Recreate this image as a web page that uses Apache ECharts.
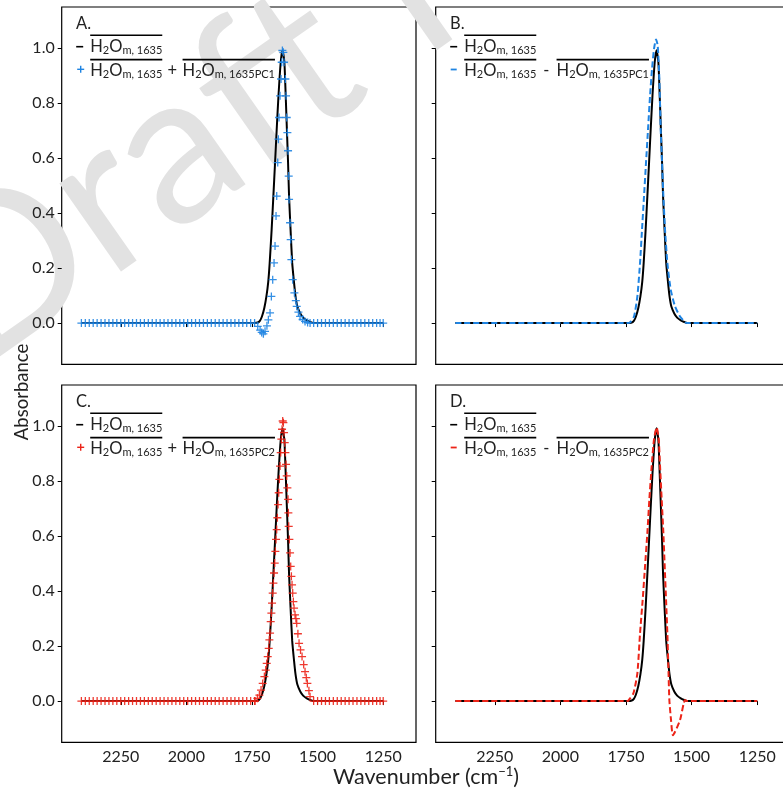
<!DOCTYPE html>
<html><head><meta charset="utf-8">
<script src="https://cdn.jsdelivr.net/npm/echarts@6/dist/echarts.min.js"></script>
<style>html,body{margin:0;padding:0;background:#fff}#c{width:783px;height:789px}</style>
</head><body><div id="c"></div>
<script>
// ---------- data ----------
const xTicks = [2250, 2000, 1750, 1500, 1250];
const yTicks = [0.0, 0.2, 0.4, 0.6, 0.8, 1.0];
const panelLabels = ['A.', 'B.', 'C.', 'D.'];

// H2Om,1635 (black, all panels)
const blackWn  = [2400, 1740, 1728, 1720, 1712, 1703, 1695, 1688, 1682.5, 1675, 1668.5, 1662, 1655.7, 1649, 1640.5, 1633.5, 1626.5, 1621.5, 1617, 1612.5, 1608.7, 1603, 1596.7, 1590, 1584, 1577, 1566, 1555, 1541, 1528, 1517, 1250];
const blackVal = [0, 0, 0.002, 0.008, 0.024, 0.055, 0.097, 0.15, 0.219, 0.341, 0.462, 0.584, 0.706, 0.827, 0.949, 0.993, 0.949, 0.827, 0.706, 0.584, 0.462, 0.341, 0.219, 0.15, 0.097, 0.06, 0.035, 0.02, 0.01, 0.004, 0, 0];

// flat baseline marker positions (wavenumbers) shared by the "+" series
const baseHighWn = [2400,2385,2370,2355,2340,2325,2310,2295,2280,2265,2250,2235,2220,2205,2190,2175,2160,2145,2130,2115,2100,2085,2070,2055,2040,2025,2010,1995,1980,1965,1950,1935,1920,1905,1890,1875,1860,1845,1830,1815,1800,1785,1770,1755,1740];
const baseLowWn  = [1515,1500,1485,1470,1455,1440,1425,1410,1395,1380,1365,1350,1335,1320,1305,1290,1275,1262,1250];
const baseHighVal = [0,0,0,0,0,0,0,0,0,0,0,0,0,0,0,0,0,0,0,0,0,0,0,0,0,0,0,0,0,0,0,0,0,0,0,0,0,0,0,0,0,0,0,0,0];
const baseLowVal  = [0,0,0,0,0,0,0,0,0,0,0,0,0,0,0,0,0,0,0];

// H2Om,1635 + PC1 (blue "+" markers, panel A) - peak part
const sumPC1Wn  = [1728,1719,1712.9,1706.5,1700.2,1693,1687.5,1681.1,1676.1,1671.0,1665.9,1662.1,1658.3,1655.7,1651.9,1649.4,1646.9,1643.0,1639.2,1636.7,1634.1,1630.5,1627.8,1622.7,1620.2,1617.6,1615.1,1612.5,1610.0,1608.7,1604.9,1602.4,1599.8,1594.8,1588.4,1583,1579.5,1573,1566.8,1557,1547.8,1538,1528.7];
const sumPC1Val = [-0.012,-0.026,-0.034,-0.039,-0.030,-0.010,0.012,0.037,0.097,0.158,0.219,0.280,0.390,0.462,0.584,0.669,0.748,0.827,0.888,0.949,0.992,0.985,0.949,0.888,0.827,0.748,0.693,0.627,0.535,0.450,0.365,0.304,0.231,0.158,0.110,0.082,0.061,0.040,0.024,0.013,0.006,0.002,0];

// H2Om,1635 - PC1 (blue dashed, panel B)
const diffPC1Wn  = [2400, 1745, 1734.5, 1719.3, 1706.6, 1696.4, 1688.8, 1681.2, 1673.6, 1665.9, 1658.3, 1650.7, 1643.1, 1635.4, 1629.1, 1622.8, 1617.7, 1612.6, 1607.5, 1601.2, 1592.3, 1579.6, 1563.1, 1544.0, 1524.9, 1515, 1250];
const diffPC1Val = [0, 0, 0.002, 0.024, 0.097, 0.219, 0.341, 0.462, 0.584, 0.706, 0.827, 0.925, 0.998, 1.032, 1.010, 0.888, 0.706, 0.584, 0.462, 0.341, 0.219, 0.122, 0.061, 0.024, 0.003, 0, 0];

// H2Om,1635 + PC2 (red "+" markers, panel C) - peak part
const sumPC2Wn  = [1738.3,1729.4,1721.8,1715.4,1709.1,1702.7,1697.6,1693.8,1690.0,1686.2,1683.7,1681.1,1678.6,1676.1,1673.5,1671.0,1668.4,1665.9,1663.3,1660.8,1658.3,1655.7,1653.2,1650.6,1648.1,1645.6,1643.0,1640.5,1637.9,1635.4,1632.9,1630.3,1627.8,1625.2,1622.7,1620.2,1617.6,1615.1,1612.5,1611.3,1610.0,1607.5,1604.9,1602.4,1599.8,1597.3,1594.8,1592.3,1589.7,1585.9,1582.6,1579.5,1575,1570.6,1565,1559.2,1553,1547.8,1543,1538.9,1533,1528.7];
const sumPC2Val = [0,0.010,0.022,0.040,0.064,0.089,0.113,0.137,0.162,0.192,0.223,0.247,0.289,0.320,0.356,0.393,0.429,0.466,0.502,0.545,0.588,0.624,0.667,0.715,0.758,0.807,0.855,0.904,0.953,0.989,1.019,1.013,0.977,0.940,0.904,0.861,0.819,0.776,0.734,0.685,0.636,0.588,0.539,0.490,0.454,0.423,0.393,0.362,0.338,0.314,0.300,0.283,0.245,0.210,0.186,0.162,0.133,0.107,0.085,0.064,0.038,0.016];

// H2Om,1635 - PC2 (red dashed, panel D)
const diffPC2Wn  = [2400, 1745, 1740.9, 1721.8, 1706.6, 1696.4, 1686.3, 1677.4, 1668.5, 1660.9, 1652.0, 1643.1, 1632.9, 1625.3, 1620.2, 1613.9, 1607.5, 1602.4, 1597.3, 1592.3, 1588.5, 1584.7, 1578.3, 1571, 1544, 1524.9, 1518, 1250];
const diffPC2Val = [0, 0, 0.002, 0.028, 0.101, 0.247, 0.369, 0.490, 0.612, 0.734, 0.855, 0.953, 0.995, 0.953, 0.855, 0.734, 0.612, 0.490, 0.369, 0.247, 0.125, 0.004, -0.069, -0.124, -0.069, 0.004, 0, 0];

// ---------- styling / layout ----------
const FONT = 'Lato';
const TXT = '#222';
const BLUE = '#1f84e2';
const RED = '#ec2418';
const W = 354.3, H = 357.3;
const panels = [
  {left: 61.7,  top: 7,   showX: false, showY: true,  color: BLUE, kind: 'plus', op: '+', pc: 'PC1', wn: sumPC1Wn,  val: sumPC1Val},
  {left: 435.7, top: 7,   showX: false, showY: false, color: BLUE, kind: 'dash', op: '-', pc: 'PC1', wn: diffPC1Wn, val: diffPC1Val},
  {left: 61.7,  top: 385, showX: true,  showY: true,  color: RED,  kind: 'plus', op: '+', pc: 'PC2', wn: sumPC2Wn,  val: sumPC2Val},
  {left: 435.7, top: 385, showX: true,  showY: false, color: RED,  kind: 'dash', op: '-', pc: 'PC2', wn: diffPC2Wn, val: diffPC2Val}
];
const pair = (a, b) => a.map((w, k) => [w, b[k]]);
const PLUS = 'path://M4.2,0H5.8V4.2H10V5.8H5.8V10H4.2V5.8H0V4.2H4.2Z';

const grids = [], xAxes = [], yAxes = [], series = [];
panels.forEach((p, i) => {
  grids.push({left: p.left, top: p.top, width: W, height: H, show: true, borderColor: '#000', borderWidth: 1.2,
              backgroundColor: 'transparent', containLabel: false, outerBoundsMode: 'none'});
  xAxes.push({gridIndex: i, type: 'value', inverse: true, min: 1125, max: 2475,
    axisLine: {show: false}, splitLine: {show: false},
    axisTick: {show: true, length: 4, lineStyle: {color: '#000', width: 1}, customValues: xTicks},
    axisLabel: {show: p.showX, customValues: xTicks, formatter: v => String(v), fontFamily: FONT, fontSize: 16, color: TXT, margin: 7}});
  yAxes.push({gridIndex: i, type: 'value', min: -0.15, max: 1.15,
    axisLine: {show: false}, splitLine: {show: false},
    axisTick: {show: true, length: 4, lineStyle: {color: '#000', width: 1}, customValues: yTicks},
    axisLabel: {show: p.showY, customValues: yTicks, formatter: v => v.toFixed(1), fontFamily: FONT, fontSize: 16, color: TXT, margin: 7}});
  series.push({type: 'line', xAxisIndex: i, yAxisIndex: i, data: pair(blackWn, blackVal), showSymbol: false,
               smooth: 0.2, lineStyle: {color: '#000', width: 2}, z: 3, silent: true});
  if (p.kind === 'plus') {
    const data = pair(baseHighWn, baseHighVal).concat(pair(p.wn, p.val), pair(baseLowWn, baseLowVal));
    series.push({type: 'scatter', xAxisIndex: i, yAxisIndex: i, data: data, symbol: PLUS, symbolSize: 8,
                 itemStyle: {color: p.color, opacity: 0.9}, z: 4, silent: true});
  } else {
    series.push({type: 'line', xAxisIndex: i, yAxisIndex: i, data: pair(p.wn, p.val), showSymbol: false, smooth: 0.2,
                 lineStyle: {color: p.color, width: 2, type: [6, 3]}, z: 4, silent: true});
  }
});

// ---------- legend / labels via graphic ----------
const mctx = document.createElement('canvas').getContext('2d');
function tw(s, size) { mctx.font = size + 'px ' + FONT; return mctx.measureText(s).width; }
const g = [];
function txt(x, base, s, size, color) {
  g.push({type: 'text', x: x, y: base + size * 0.22, z: 50,
          style: {text: s, fontFamily: FONT, fontSize: size, fill: color || TXT, align: 'left', verticalAlign: 'bottom'}});
}
function hline(x1, x2, y, color, w) {
  g.push({type: 'line', z: 50, shape: {x1: x1, y1: y, x2: x2, y2: y}, style: {stroke: color || '#000', lineWidth: w || 1.6}});
}
function vline(x, y1, y2, color, w) {
  g.push({type: 'line', z: 50, shape: {x1: x, y1: y1, x2: x, y2: y2}, style: {stroke: color, lineWidth: w || 1.6}});
}
const FM = 16.5, FS = 11;
function term(x, base, sub) {
  let cx = x;
  txt(cx, base, 'H', FM); cx += tw('H', FM);
  txt(cx, base + 1.5, '2', FS); cx += tw('2', FS);
  txt(cx, base, 'O', FM); cx += tw('O', FM);
  txt(cx, base + 1.5, sub, FS); cx += tw(sub, FS);
  hline(x, cx, base - 16.4, '#000', 1.6);
  return cx;
}
panels.forEach((p, i) => {
  const L = p.left, T = p.top;
  txt(L + 14.3, T + 22, panelLabels[i], 16.5);
  hline(L + 14.5, L + 21.5, T + 39.7, '#000', 1.6);
  term(L + 28.5, T + 44.7, 'm, 1635');
  if (p.kind === 'plus') {
    hline(L + 15.5, L + 22.5, T + 62.3, p.color, 1.4);
    vline(L + 19, T + 58.8, T + 65.8, p.color, 1.4);
  } else {
    hline(L + 15, L + 21, T + 62.5, p.color, 1.8);
  }
  const e1 = term(L + 28.5, T + 69, 'm, 1635');
  const opw = tw(p.op, FM);
  txt(e1 + 10 - opw / 2, T + 69, p.op, FM);
  term(e1 + 20.3, T + 69, 'm, 1635' + p.pc);
});
g.push({type: 'text', x: 22, y: 392, rotation: Math.PI / 2, z: 50,
        style: {text: 'Absorbance', fontFamily: FONT, fontSize: 18.5, fill: TXT, align: 'center', verticalAlign: 'middle'}});
(function () {
  const a = 'Wavenumber (cm', sup = '\u22121', b = ')';
  const fs = 21.5, fsu = 13;
  const total = tw(a, fs) + tw(sup, fsu) + tw(b, fs);
  let x = 426 - total / 2;
  const base = 783;
  txt(x, base, a, fs); x += tw(a, fs);
  txt(x, base - 8, sup, fsu); x += tw(sup, fsu);
  txt(x, base, b, fs);
})();
// watermark (baseline start point, rotated up to the right)
g.push({type: 'text', x: 0, y: 402, rotation: 35 * Math.PI / 180, z: 0, silent: true,
        style: {text: 'Draft for review', fontFamily: FONT, fontSize: 212, fill: '#e2e2e2', align: 'left', verticalAlign: 'bottom'}});

const chart = echarts.init(document.getElementById('c'));
chart.setOption({
  animation: false,
  backgroundColor: '#fff',
  grid: grids, xAxis: xAxes, yAxis: yAxes, series: series,
  graphic: {elements: g}
});
</script></body></html>
